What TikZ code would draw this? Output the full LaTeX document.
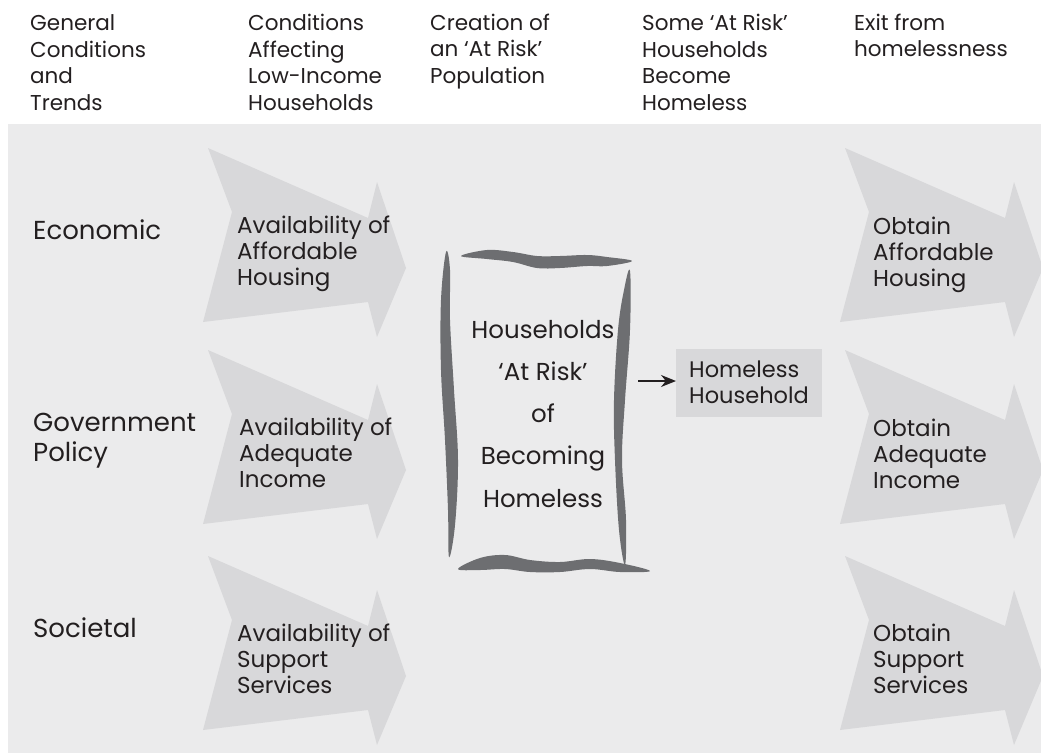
\documentclass[tikz,border=0pt]{standalone}
\usepackage{fontspec}
\setmainfont{Poppins}
\usetikzlibrary{arrows.meta,calc}
\definecolor{bggrey}{HTML}{EBEBEC}
\definecolor{arrowfill}{HTML}{D8D8DA}
\definecolor{brush}{HTML}{6D6E71}
\definecolor{ink}{HTML}{231F20}
\tikzset{
  bigarrow/.style={fill=arrowfill},
  brushstroke/.style={fill=brush},
  headtxt/.style={anchor=base west, align=left, inner sep=0pt, text=ink, font=\fontsize{21.5}{26.5}\selectfont},
  sidetxt/.style={anchor=base west, align=left, inner sep=0pt, text=ink, font=\fontsize{26}{30}\selectfont},
  arrtxt/.style={anchor=base west, align=left, inner sep=0pt, text=ink, font=\fontsize{23}{26}\selectfont},
  scrolltxt/.style={anchor=base, align=center, inner sep=0pt, text=ink, font=\fontsize{24.5}{42.2}\selectfont},
  hboxstyle/.style={fill=arrowfill, anchor=north west, inner sep=0pt, minimum width=146pt, minimum height=68pt},
  hboxtxt/.style={anchor=base west, align=left, inner sep=0pt, text=ink, font=\fontsize{22.5}{26}\selectfont},
}
\newcommand\shapearrow[2]{%
  \begin{scope}[shift={(#1,#2)}]
    \fill[bigarrow] (0,0) -- (160,70) -- (169,34) -- (198,120) -- (169,189) -- (160,154) -- (-5,174) -- (24,64) -- cycle;
  \end{scope}}
\begin{document}
\begin{tikzpicture}[x=1pt,y=-1pt]
\useasboundingbox (0,0) rectangle (1041,753);
\fill[white] (0,0) rectangle (1041,753);
\fill[bggrey] (8,124) rectangle (1041,753);

% headers (anchor = baseline of last line)
\node[headtxt] (h1) at (30,110) {General\\Conditions\\and\\Trends};
\node[headtxt] (h2) at (248,110) {Conditions\\Affecting\\Low-Income\\Households};
\node[headtxt] (h3) at (430,83) {Creation of\\an ‘At Risk’\\Population};
\node[headtxt] (h4) at (642,110) {Some ‘At Risk’\\Households\\Become\\Homeless};
\node[headtxt] (h5) at (854,56.5) {Exit from\\homelessness};

% big arrows
\shapearrow{208}{148}
\shapearrow{208}{350}
\shapearrow{208}{556}
\shapearrow{845}{148}
\shapearrow{845}{350}
\shapearrow{845}{556}

% side labels
\node[sidetxt] (econ) at (33,239) {Economic};
\node[sidetxt] (gov) at (33,461) {Government\\Policy};
\node[sidetxt] (soc) at (33,637) {Societal};

% arrow texts
\node[arrtxt] (a1) at (237,285) {Availability of\\Affordable\\Housing};
\node[arrtxt] (a2) at (239,487) {Availability of\\Adequate\\Income};
\node[arrtxt] (a3) at (237,693) {Availability of\\Support\\Services};
\node[arrtxt] (o1) at (873,286) {Obtain\\Affordable\\Housing};
\node[arrtxt] (o2) at (873,488) {Obtain\\Adequate\\Income};
\node[arrtxt] (o3) at (873,693) {Obtain\\Support\\Services};

% scroll
\fill[brushstroke] plot[smooth cycle, tension=0.6] coordinates {(446,252) (441,300) (441,370) (445,440) (448,510) (449,557) (455,525) (458,460) (454,390) (450,320) (450,270)};
\fill[brushstroke] plot[smooth cycle, tension=0.6] coordinates {(630,271) (630,330) (625,400) (622,460) (626,520) (625,565) (619,530) (615,460) (614,400) (618,330) (624,290)};
\fill[brushstroke] plot[smooth cycle, tension=0.6] coordinates {(461,256) (487,250) (513,252) (537,256) (560,256) (587,255) (607,257) (632,261) (607,266) (587,266) (560,268) (537,268) (513,262) (487,259)};
\fill[brushstroke] plot[smooth cycle, tension=0.6] coordinates {(458,569) (480,558) (505,555) (530,560) (560,562) (590,559) (620,563) (650,571) (620,572) (590,569) (560,572) (530,572) (505,569) (480,570)};
\node[scrolltxt] (risk) at (543,507) {Households\\‘At Risk’\\of\\Becoming\\Homeless};

% homeless household
\node[hboxstyle] (hh) at (676,349) {};
\node[hboxtxt] (hht) at (689,403) {Homeless\\Household};
\coordinate (hs) at (638,381);
\draw[ink, line width=1.6pt, -{Stealth[length=15pt,width=12pt]}] (hs) -- (hs -| hh.west);
\end{tikzpicture}
\end{document}
